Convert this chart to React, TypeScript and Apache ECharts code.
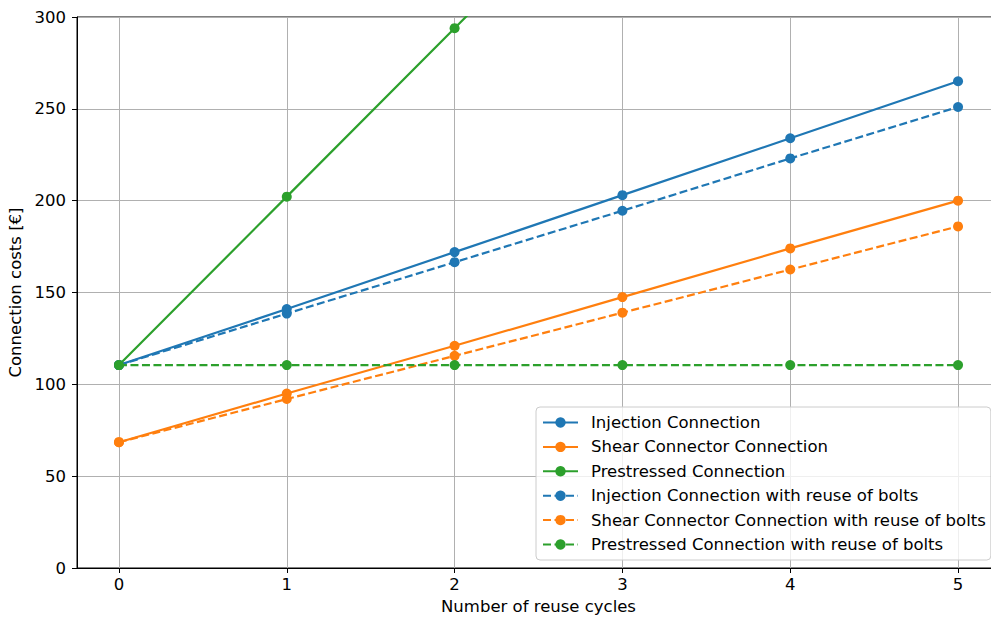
import React, { useEffect, useRef } from "react";
import * as echarts from "echarts";

const cycles = [0, 1, 2, 3, 4, 5];
const injection = [110.5, 141, 172, 203, 234, 265];
const shear = [68.5, 95, 121, 147.5, 174, 200];
const prestressed = [110.5, 202.2, 293.9, 385.6, 477.3, 569];
const injectionReuse = [110.5, 138.5, 166.5, 194.5, 223, 251];
const shearReuse = [68.5, 92, 115.5, 139, 162.5, 186];
const prestressedReuse = [110.5, 110.5, 110.5, 110.5, 110.5, 110.5];

const names = [
  "Injection Connection",
  "Shear Connector Connection",
  "Prestressed Connection",
  "Injection Connection with reuse of bolts",
  "Shear Connector Connection with reuse of bolts",
  "Prestressed Connection with reuse of bolts",
];
const colors = ["#1f77b4", "#ff7f0e", "#2ca02c"];

const FONT = "DejaVu Sans";
const FS = 16.5;

export default function App() {
  const ref = useRef<HTMLDivElement>(null);
  useEffect(() => {
    const chart = echarts.init(ref.current!, null, { renderer: "svg" });
    const allData = [injection, shear, prestressed, injectionReuse, shearReuse, prestressedReuse];
    const series = allData.map((d, i) => ({
      name: names[i],
      type: "line",
      data: d.map((v, j) => [cycles[j], v]),
      symbol: "circle",
      symbolSize: 10,
      showSymbol: true,
      clip: true,
      color: colors[i % 3],
      itemStyle: { color: colors[i % 3] },
      lineStyle: {
        color: colors[i % 3],
        width: 2.2,
        type: i >= 3 ? [8, 3.5] : "solid",
      },
      emphasis: { disabled: true },
      z: 2 + i,
    }));
    chart.setOption({
      animation: false,
      grid: {
        left: 77,
        top: 17,
        width: 923,
        bottom: 51,
        outerBoundsMode: "none",
        containLabel: false,
        show: true,
        borderColor: "#000",
        borderWidth: 1,
        backgroundColor: "transparent",
      },
      xAxis: {
        type: "value",
        min: -0.25,
        max: 5.25,
        name: "Number of reuse cycles",
        nameLocation: "middle",
        nameGap: 30,
        nameTextStyle: { fontFamily: FONT, fontSize: FS, color: "#000" },
        axisLine: { show: true, onZero: false, lineStyle: { color: "#000", width: 1 } },
        axisTick: { show: true, length: 5, lineStyle: { color: "#000" }, customValues: cycles },
        axisLabel: {
          fontFamily: FONT,
          fontSize: FS,
          color: "#000",
          margin: 8,
          customValues: cycles,
        },
        splitLine: { show: true, lineStyle: { color: "#b0b0b0", width: 1 } },
      },
      yAxis: {
        type: "value",
        min: 0,
        max: 300,
        interval: 50,
        name: "Connection costs [€]",
        nameLocation: "middle",
        nameGap: 47,
        nameTextStyle: { fontFamily: FONT, fontSize: FS, color: "#000" },
        axisLine: { show: true, onZero: false, lineStyle: { color: "#000", width: 1 } },
        axisTick: { show: true, length: 5, lineStyle: { color: "#000" } },
        axisLabel: { fontFamily: FONT, fontSize: FS, color: "#000", margin: 11 },
        splitLine: { show: true, lineStyle: { color: "#b0b0b0", width: 1 } },
      },
      legend: {
        orient: "vertical",
        left: 536,
        top: 407,
        padding: [7, 5, 7, 6],
        itemWidth: 35,
        itemHeight: 13,
        itemGap: 7.4,
        backgroundColor: "rgba(255,255,255,0.8)",
        borderColor: "#cccccc",
        borderWidth: 1,
        borderRadius: 4,
        textStyle: { fontFamily: FONT, fontSize: FS, color: "#000", padding: [0, 0, 0, 8] },
        data: names,
        selectedMode: false,
      },
      series,
    });
    return () => chart.dispose();
  }, []);
  return (
    <div
      ref={ref}
      style={{ position: "fixed", left: 0, top: 0, width: 991, height: 619, background: "#fff" }}
    />
  );
}
